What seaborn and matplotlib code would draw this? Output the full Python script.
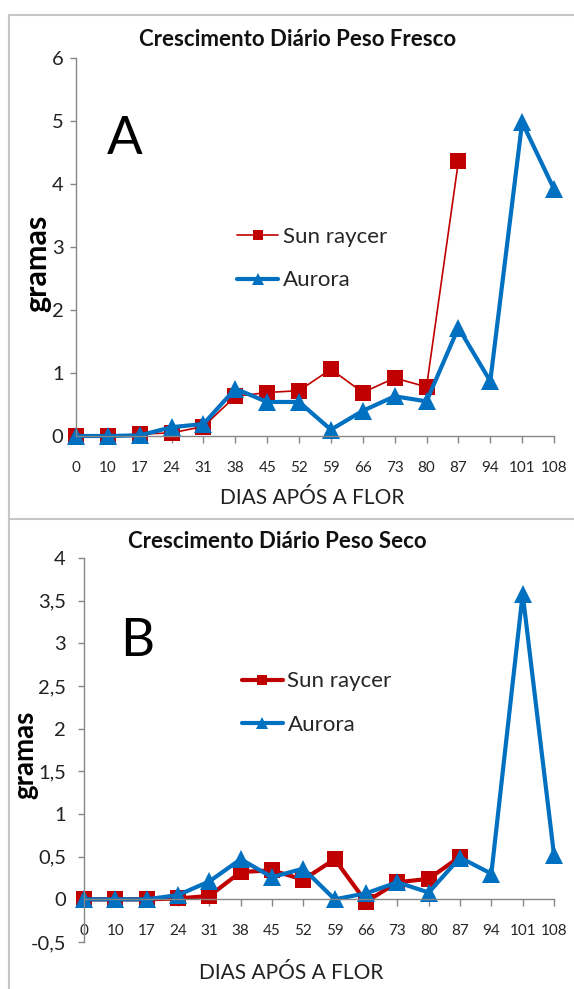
import numpy as np
import pandas as pd
import seaborn as sns
import matplotlib.pyplot as plt
from matplotlib.lines import Line2D

# Days after flowering (category axis)
days = [0, 10, 17, 24, 31, 38, 45, 52, 59, 66, 73, 80, 87, 94, 101, 108]

# A - daily growth, fresh weight (g)
fresh_sun = [0, 0, 0.03, 0.05, 0.15, 0.63, 0.69, 0.72, 1.06, 0.69, 0.92, 0.78, 4.36,
             np.nan, np.nan, np.nan]
fresh_aurora = [0, 0, 0.01, 0.14, 0.19, 0.75, 0.54, 0.54, 0.10, 0.40, 0.63, 0.55, 1.72,
                0.87, 4.98, 3.92]

# B - daily growth, dry weight (g)
dry_sun = [0, 0, 0, 0.01, 0.04, 0.32, 0.34, 0.23, 0.47, -0.03, 0.20, 0.24, 0.50,
           np.nan, np.nan, np.nan]
dry_aurora = [0, 0, 0, 0.05, 0.21, 0.47, 0.26, 0.36, 0.0, 0.07, 0.20, 0.08, 0.49,
              0.30, 3.58, 0.52]

fresh_yticks = [0, 1, 2, 3, 4, 5, 6]
dry_yticks = [-0.5, 0, 0.5, 1, 1.5, 2, 2.5, 3, 3.5, 4]

RED = '#C00000'
BLUE = '#0070C0'
AXIS = '#868686'
FRAME = '#C6C6C6'

sns.set_theme(style='white')
plt.rcParams['font.family'] = ['Lato', 'DejaVu Sans']

W, H = 574, 989
fig = plt.figure(figsize=(W / 100, H / 100), dpi=100)


def px_axes(left, right, top, bottom):
    return fig.add_axes([left / W, 1 - bottom / H, (right - left) / W, (bottom - top) / H])


def fx(x):
    return x / W


def fy(y):
    return 1 - y / H


def draw(ax, sun, aurora, sun_lw, yticks, ylim, ypad, legend_xy):
    df = pd.DataFrame({'pos': np.arange(len(days)), 'sun': sun, 'aurora': aurora})
    sns.lineplot(data=df, x='pos', y='sun', ax=ax, color=RED, lw=sun_lw, marker='s',
                 ms=12, mec=RED, mew=0, label='Sun raycer', errorbar=None, clip_on=False)
    sns.lineplot(data=df, x='pos', y='aurora', ax=ax, color=BLUE, lw=3, marker='^',
                 ms=13, mec=BLUE, mew=0, label='Aurora', errorbar=None, clip_on=False)

    ax.set_xlim(0, len(days) - 1)
    ax.set_ylim(*ylim)
    ax.set_xticks(np.arange(len(days)))
    ax.set_xticklabels([str(d) for d in days], fontsize=14.5, color='#222222')
    ax.set_yticks(yticks)
    ax.set_yticklabels([f'{t:g}'.replace('.', ',') for t in yticks], fontsize=14.5,
                       color='#222222')
    ax.set_xlabel('')
    ax.set_ylabel('')

    for side in ['top', 'right']:
        ax.spines[side].set_visible(False)
    for side in ['left', 'bottom']:
        ax.spines[side].set_color(AXIS)
        ax.spines[side].set_linewidth(1.0)
    ax.spines['bottom'].set_position(('data', 0))

    ax.tick_params(axis='x', direction='out', length=5, width=1, color=AXIS, pad=13,
                   bottom=True)
    ax.tick_params(axis='y', direction='out', length=4, width=1, color=AXIS, pad=ypad,
                   left=True)

    ax.legend(loc='upper left', bbox_to_anchor=legend_xy, frameon=False, borderpad=0,
              fontsize=16, handlelength=1.85, handletextpad=0.2, labelspacing=1.05,
              markerscale=0.65, borderaxespad=0)


ax1 = px_axes(76, 554, 58, 436)
draw(ax1, fresh_sun, fresh_aurora, 1.2, fresh_yticks, (0, 6), 5, (0.337, 0.553))

ax2 = px_axes(84, 554, 558, 942)
draw(ax2, dry_sun, dry_aurora, 3, dry_yticks, (-0.5, 4), 9, (0.336, 0.705))

# chart frames
for line in [((9, 9), (15, 989)), ((9, 580), (15, 15)), ((9, 580), (519, 519))]:
    fig.add_artist(Line2D([fx(v) for v in line[0]], [fy(v) for v in line[1]],
                          color=FRAME, lw=1.5, transform=fig.transFigure))

# titles, panel letters and axis labels
fig.text(fx(298), fy(40), 'Crescimento Diário Peso Fresco', ha='center', va='center',
         fontsize=16, fontweight='bold', color='#111111')
fig.text(fx(277), fy(541), 'Crescimento Diário Peso Seco', ha='center', va='center',
         fontsize=16, fontweight='bold', color='#111111')

fig.text(fx(125), fy(140), 'A', ha='center', va='center', fontsize=38, color='black')
fig.text(fx(137), fy(641), 'B', ha='center', va='center', fontsize=38, color='black')

fig.text(fx(312), fy(498), 'DIAS APÓS A FLOR', ha='center', va='center', fontsize=15,
         color='#222222')
fig.text(fx(291), fy(973), 'DIAS APÓS A FLOR', ha='center', va='center', fontsize=15,
         color='#222222')

fig.text(fx(37), fy(263), 'gramas', ha='center', va='center', rotation=90, fontsize=22,
         fontweight='bold', color='black')
fig.text(fx(25), fy(755), 'gramas', ha='center', va='center', rotation=90, fontsize=20,
         fontweight='bold', color='black')

fig.savefig('out.png', dpi=100, facecolor='white')
